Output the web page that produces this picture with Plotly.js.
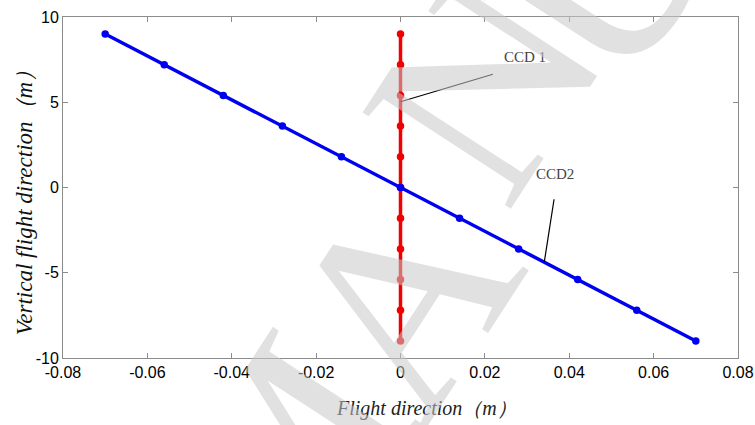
<!DOCTYPE html>
<html>
<head>
<meta charset="utf-8">
<script src="https://cdn.plot.ly/plotly-3.0.1.min.js"></script>
<style>html,body{margin:0;padding:0;background:#fff;}#chart{width:755px;height:425px;}</style>
</head>
<body>
<div id="chart"></div>
<script>
// Data
const ccd2X = [-0.07, -0.056, -0.042, -0.028, -0.014, 0, 0.014, 0.028, 0.042, 0.056, 0.07];
const ccd2Y = [9, 7.2, 5.4, 3.6, 1.8, 0, -1.8, -3.6, -5.4, -7.2, -9];
const ccd1X = [0, 0, 0, 0, 0, 0, 0, 0, 0, 0, 0];
const ccd1Y = [9, 7.2, 5.4, 3.6, 1.8, 0, -1.8, -3.6, -5.4, -7.2, -9];
const xTickVals = [-0.08, -0.06, -0.04, -0.02, 0, 0.02, 0.04, 0.06, 0.08];
const xTickText = ["-0.08", "-0.06", "-0.04", "-0.02", "0", "0.02", "0.04", "0.06", "0.08"];
const yTickVals = [-10, -5, 0, 5, 10];
const yTickText = ["-10", "-5", "0", "5", "10"];
const xTitle = "Flight direction（m）";
const yTitle = "Vertical flight direction（m）";
const labelNames = ["CCD 1", "CCD2"];
const labelTextX = [0.0296, 0.0366];
const labelTextY = [7.65, 0.82];
const leaderFromX = [0.0, 0.0341];
const leaderFromY = [5.03, -4.35];
const leaderToX = [0.0219, 0.0364];
const leaderToY = [6.64, -0.69];
const watermarkLetters = ["M", "A", "N", "U"];
const watermarkX = [0.326, 0.499, 0.622, 0.796];
const watermarkY = [-0.32, 0.17, 0.806, 1.147];

const traces = [
  {x: ccd1X, y: ccd1Y, type: 'scatter', mode: 'lines+markers', name: 'CCD 1',
   line: {color: '#f00000', width: 3.5}, marker: {color: '#f00000', size: 7.5}},
  {x: ccd2X, y: ccd2Y, type: 'scatter', mode: 'lines+markers', name: 'CCD2',
   line: {color: '#0000f0', width: 3.5}, marker: {color: '#0000f0', size: 7.5}}
];

const annotations = [];
const shapes = [];
for (let i = 0; i < labelNames.length; i++) {
  annotations.push({x: labelTextX[i], y: labelTextY[i], xref: 'x', yref: 'y', text: labelNames[i],
    showarrow: false, font: {family: 'Liberation Serif, serif', size: 15, color: '#444'}});
  shapes.push({type: 'line', xref: 'x', yref: 'y', x0: leaderFromX[i], y0: leaderFromY[i],
    x1: leaderToX[i], y1: leaderToY[i], line: {color: '#000', width: 1.2}});
}
// axis titles
annotations.push({x: 0.539, y: -0.147, xref: 'paper', yref: 'paper', xanchor: 'center', yanchor: 'middle',
  text: xTitle, showarrow: false,
  font: {family: 'Liberation Serif, serif', size: 20, color: '#222', style: 'italic'}});
annotations.push({x: -0.057, y: 0.47, xref: 'paper', yref: 'paper', xanchor: 'center', yanchor: 'middle',
  text: yTitle, showarrow: false, textangle: -90,
  font: {family: 'Liberation Serif, serif', size: 23, color: '#111', style: 'italic'}});
for (let i = 0; i < watermarkLetters.length; i++) {
  annotations.push({x: watermarkX[i], y: watermarkY[i], xref: 'paper', yref: 'paper',
    xanchor: 'center', yanchor: 'middle',
    text: watermarkLetters[i], showarrow: false, textangle: -57,
    font: {family: 'Liberation Serif, serif', size: 270, color: 'rgba(200,200,200,0.55)'}});
}

const axisCommon = {
  showgrid: false, zeroline: false, showline: true, linecolor: '#8c8c8c', linewidth: 1,
  mirror: 'ticks', ticks: 'inside', ticklen: 5, tickcolor: '#8c8c8c', tickwidth: 1,
  tickfont: {family: 'Liberation Sans, Arial, sans-serif', size: 16, color: '#000'}
};

const layout = {
  width: 755, height: 425,
  margin: {l: 63, r: 17, t: 17, b: 67},
  paper_bgcolor: '#fff', plot_bgcolor: '#fff',
  showlegend: false,
  xaxis: Object.assign({}, axisCommon, {
    range: [-0.08, 0.08], tickmode: 'array', tickvals: xTickVals, ticktext: xTickText
  }),
  yaxis: Object.assign({}, axisCommon, {
    range: [-10, 10], tickmode: 'array', tickvals: yTickVals, ticktext: yTickText
  }),
  annotations: annotations,
  shapes: shapes
};

Plotly.newPlot('chart', traces, layout, {displayModeBar: false, staticPlot: true});
</script>
</body>
</html>
